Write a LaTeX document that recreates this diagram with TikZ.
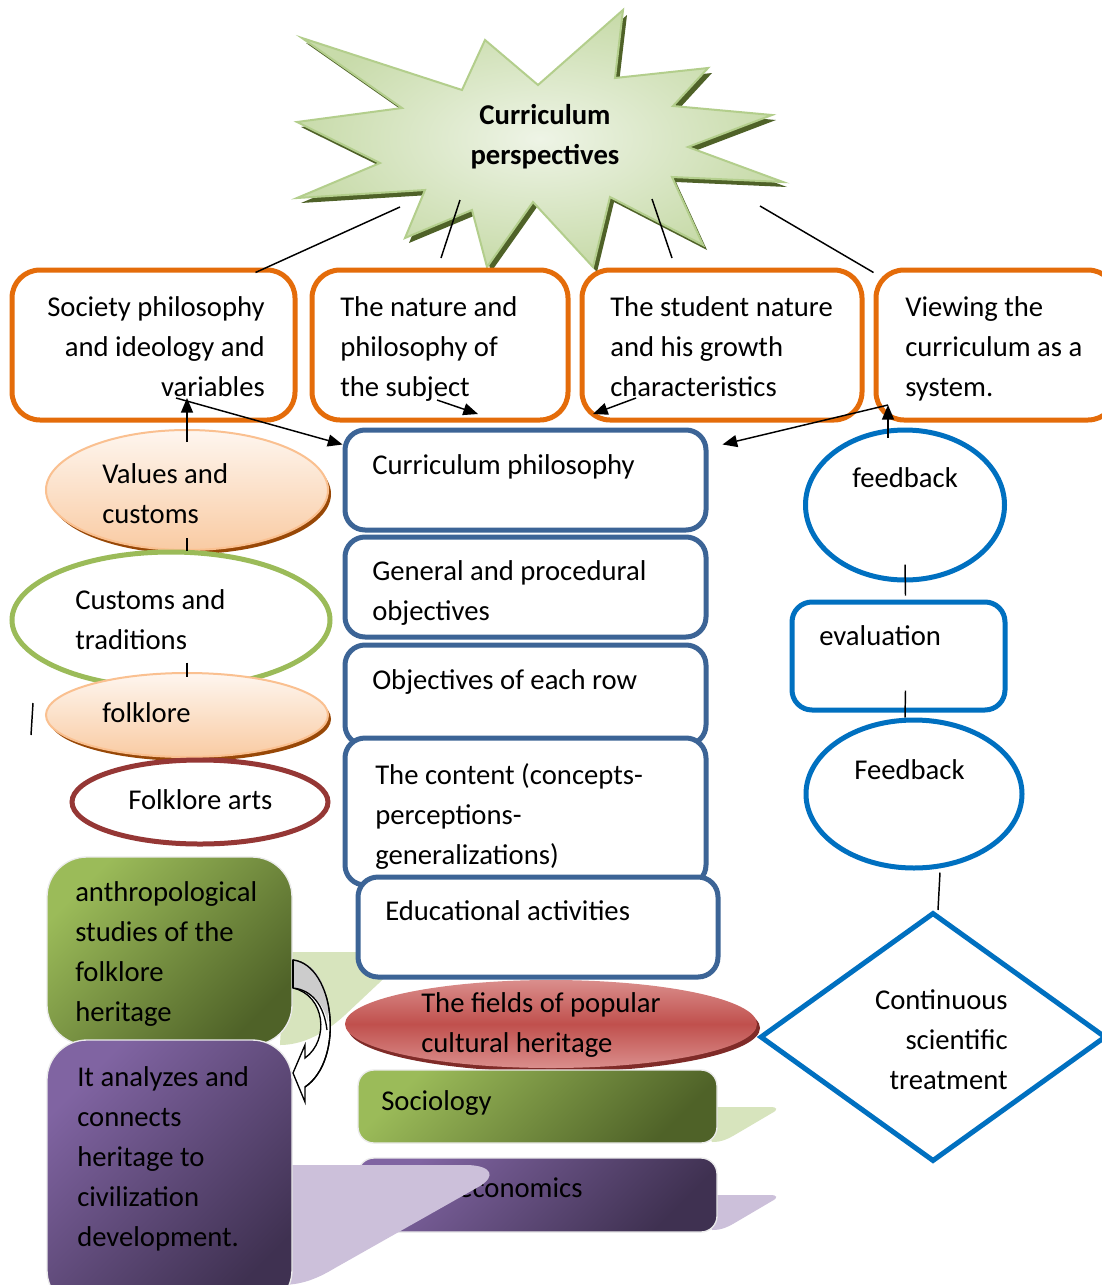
\documentclass[tikz,border=0pt]{standalone}
\usepackage{fontspec}
\setmainfont{Carlito}
\usetikzlibrary{arrows.meta,shapes.geometric,fit,calc}
\definecolor{orng}{HTML}{E46C0A}
\definecolor{bbox}{HTML}{3C6496}
\definecolor{rblue}{HTML}{0070C0}
\definecolor{grnb}{HTML}{9BBB59}
\definecolor{redb}{HTML}{953735}
\definecolor{peachT}{HTML}{FEF6EF}
\definecolor{peachB}{HTML}{F9CBA3}
\definecolor{peachL}{HTML}{FAC090}
\definecolor{brownS}{HTML}{984807}
\definecolor{redM}{HTML}{C0504D}
\definecolor{redL}{HTML}{DA8E8C}
\definecolor{redS}{HTML}{7F2B28}
\definecolor{gA}{HTML}{9BBB59}
\definecolor{gB}{HTML}{4F6228}
\definecolor{pA}{HTML}{8064A2}
\definecolor{pB}{HTML}{3F3151}
\definecolor{gSw}{HTML}{D7E4BD}
\definecolor{pSw}{HTML}{CCC0DA}
\definecolor{starIn}{HTML}{EEF4E6}
\definecolor{starOut}{HTML}{C8DBAA}
\definecolor{starLine}{HTML}{B3CE8C}
\definecolor{starSh}{HTML}{4F6228}
\newcommand\starpts{(302,38) -- (462,90) -- (485,40) -- (538,85) -- (623,10) -- (615,78) -- (708,68) -- (673,106) -- (772,115) -- (688,147) -- (783,182) -- (672,177) -- (703,245) -- (610,197) -- (593,267) -- (533,202) -- (487,267) -- (472,210) -- (405,238) -- (425,190) -- (297,198) -- (380,163) -- (297,122) -- (402,108) -- cycle}
\begin{document}
\begin{tikzpicture}[x=0.75pt,y=-0.75pt,
  every node/.style={font=\fontsize{21.5}{30}\selectfont},
  txt/.style={inner sep=0pt, align=left, execute at begin node=\strut},
  wh/.style 2 args={minimum width=#1*0.75pt, minimum height=#2*0.75pt},
  obox/.style={draw=orng, line width=3.75pt, rounded corners=21pt, fill=white, inner sep=0pt},
  bbx/.style={draw=bbox, line width=3.75pt, rounded corners=15pt, fill=white, inner sep=0pt},
  rbx/.style={draw=rblue, line width=3.75pt, rounded corners=15pt, fill=white, inner sep=0pt},
  ell/.style={ellipse, inner sep=0pt},
  gshade/.style={top color=gA, bottom color=gB, shading angle=45},
  pshade/.style={top color=pA, bottom color=pB, shading angle=45},
  arr/.style={line width=1.1pt, -{Triangle[length=11pt,width=9pt]}},
  ln/.style={line width=1.1pt},
]
\useasboundingbox (0,0) rectangle (1101,1285);
\fill[white] (0,0) rectangle (1101,1285);

% ---------- star ----------
\begin{scope}[shift={(4,5)}]
\fill[starSh] \starpts;
\end{scope}
\draw[draw=starLine, line width=1.5pt, inner color=starIn, outer color=starOut] \starpts;
\node[txt, align=center, anchor=north, font=\fontsize{21.5}{30}\selectfont\bfseries] (star) at (545,104) {Curriculum\\perspectives};

% ---------- orange boxes ----------
\node[obox, fit={(12,270) (295,420)}] (soc) {};
\node[obox, fit={(312,270) (568,420)}] (nat) {};
\node[obox, fit={(582,270) (862,420)}] (stu) {};
\node[obox, fit={(876,270) (1116,420)}] (sys) {};
\node[txt, align=right, anchor=north east] (socT) at (265,296) {Society philosophy\\and ideology and\\variables};
\node[txt, anchor=north west] (natT) at (340,296) {The nature and\\philosophy of\\the subject};
\node[txt, anchor=north west] (stuT) at (610,296) {The student nature\\and his growth\\characteristics};
\node[txt, anchor=north west] (sysT) at (905,296) {Viewing the\\curriculum as a\\system.};

% star connectors
\coordinate (st1) at (400,207);
\coordinate (st2) at (460,200);
\coordinate (st2e) at (441,258);
\coordinate (st3) at (652,199);
\coordinate (st3e) at (672,258);
\coordinate (st4) at (760,206);
\draw[ln] (st1) -- ($(soc.north east)+(-42,5)$);
\draw[ln] (st2) -- (st2e);
\draw[ln] (st3) -- (st3e);
\draw[ln] (st4) -- ($(sys.north west)+(0,5)$);

% ---------- swooshes (behind) ----------
\fill[gSw] (285,952) -- (412,952) -- (345,1015) .. controls (322,1036) and (300,1045) .. (280,1045) -- cycle;
\fill[gSw] (700,1107) -- (770,1107) .. controls (778,1107) and (778,1110) .. (772,1113) -- (738,1133) .. controls (728,1139) and (722,1142) .. (712,1142) -- cycle;
\fill[pSw] (700,1195) -- (770,1195) .. controls (778,1195) and (778,1198) .. (772,1201) -- (738,1221) .. controls (728,1227) and (722,1230) .. (712,1230) -- cycle;

% ---------- red ellipse ----------
\node[ell, wh={412}{88}, fill=redS] at (554,1028) {};
\node[ell, wh={412}{88}, top color=redL, bottom color=redL, middle color=redM] (fld) at (551,1024) {};
\node[txt, anchor=north west] (fldT) at (421,992) {The fields of popular\\cultural heritage};

% ---------- blue column ----------
\node[bbx, fit={(345,430) (706,530)}] (cur) {};
\node[bbx, fit={(345,537) (706,637)}] (gen) {};
\node[bbx, fit={(345,645) (706,745)}] (obj) {};
\node[bbx, fit={(345,738) (706,885)}] (cont) {};
\node[bbx, fit={(358,877) (718,977)}] (edu) {};
\node[txt, anchor=north west] (curT) at (372,446) {Curriculum philosophy};
\node[txt, anchor=north west] (genT) at (372,560) {General and procedural\\objectives};
\node[txt, anchor=north west] (objT) at (372,661) {Objectives of each row};
\node[txt, anchor=north west] (contT) at (375,763) {The content (concepts-\\perceptions-\\generalizations)};
\node[txt, anchor=north west] (eduT) at (385,892) {Educational activities};

% ---------- sociology / economics ----------
\node[gshade, draw=white!92!black, line width=1pt, rounded corners=12pt, inner sep=0pt, fit={(358,1070) (717,1143)}] (soci) {};
\node[txt, anchor=north west] (sociT) at (381,1082) {Sociology};
\node[pshade, draw=white!92!black, line width=1pt, rounded corners=12pt, inner sep=0pt, fit={(358,1158) (717,1232)}] (eco) {};
\node[txt, anchor=north west] (ecoT) at (458,1169) {economics};
\fill[pSw] (285,1165) -- (468,1165) .. controls (492,1166) and (496,1176) .. (480,1186) -- (335,1268) .. controls (315,1280) and (300,1285) .. (280,1285) -- cycle;

% ---------- left ellipses ----------
\node[ell, wh={282}{120}, fill=brownS] at (190,494) {};
\node[ell, wh={282}{120}, top color=peachT, bottom color=peachB, draw=peachL, line width=1.5pt] (val) at (187,490) {};
\node[txt, anchor=north west] (valT) at (102,463) {Values and\\customs};
\node[ell, wh={318}{136}, draw=grnb, line width=3.75pt, fill=white] (cust) at (171,620) {};
\node[txt, anchor=north west] (custT) at (75,589) {Customs and\\traditions};
\node[ell, wh={282}{84}, fill=brownS] at (190,719) {};
\node[ell, wh={282}{84}, top color=peachT, bottom color=peachB, draw=peachL, line width=1.5pt] (folk) at (187,715) {};
\node[txt, anchor=north west] (folkT) at (102,694) {folklore};
\node[ell, wh={256}{84}, draw=redb, line width=3.75pt, fill=white] (arts) at (200,802) {};
\node[txt, anchor=north west] (artsT) at (128,781) {Folklore arts};

% ---------- left bottom boxes ----------
\node[gshade, draw=white!92!black, line width=1pt, rounded corners=30pt, inner sep=0pt, fit={(47,857) (292,1045)}] (anth) {};
\node[txt, anchor=north west] (anthT) at (75,881) {anthropological\\studies of the\\folklore\\heritage};
\node[pshade, draw=white!92!black, line width=1pt, rounded corners=30pt, inner sep=0pt, fit={(47,1040) (292,1310)}] (ana) {};
\node[txt, anchor=north west] (anaT) at (77,1066) {It analyzes and\\connects\\heritage to\\civilization\\development.};

% curved arrow
\draw[fill=white, line width=1pt] (293,960) .. controls (335,965) and (345,1060) .. (305,1087) -- (305,1102) -- (293,1073) -- (305,1045) -- (305,1058) .. controls (330,1040) and (325,995) .. (293,988) -- cycle;
\fill[black!20] (293,960) .. controls (318,962) and (330,990) .. (328,1022) .. controls (322,1000) and (310,990) .. (293,988) -- cycle;
\draw[line width=1pt] (293,960) .. controls (335,965) and (345,1060) .. (305,1087);
\draw[line width=1pt] (293,988) .. controls (312,990) and (324,1005) .. (327,1030);
\draw[line width=1pt] (293,960) -- (293,988);

% ---------- right column ----------
\node[ell, wh={199}{150}, draw=rblue, line width=3.75pt, fill=white] (fb) at (905,505) {};
\node[txt, anchor=north west] (fbT) at (852,459) {feedback};
\node[rbx, fit={(792,602) (1005,710)}] (eva) {};
\node[txt, anchor=north west] (evaT) at (819,617) {evaluation};
\node[ell, wh={216}{148}, draw=rblue, line width=3.75pt, fill=white] (fb2) at (914,794) {};
\node[txt, anchor=north west] (fb2T) at (854,751) {Feedback};
\node[diamond, draw=rblue, line width=3.75pt, fill=white, inner sep=0pt, wh={346}{249}] (dia) at (933,1037) {};
\node[txt, align=right, anchor=north east] (diaT) at (1008,989) {Continuous\\scientific\\treatment};

% ---------- connectors ----------
\coordinate (v1) at (187,398);
\coordinate (v2) at (176,398);
\coordinate (n1) at (437,400);
\coordinate (n2) at (478,414);
\coordinate (s1) at (636,398);
\coordinate (s2) at (593,414);
\coordinate (y1) at (888,405);
\draw[arr] ($(val.north)+(0,13)$) -- (v1);
\draw[arr] (v2) -- ($(cur.north west)+(0,17)$);
\draw[arr] (n1) -- (n2);
\draw[arr] (s1) -- (s2);
\draw[arr] (y1) -- ($(cur.north east)+(14,17)$);
\draw[arr] ($(fb.north)+(-17,10)$) -- (y1);

\draw[ln] ($(val.south)+(0,-13)$) -- ($(cust.north)+(16,1)$);
\draw[ln] ($(cust.south)+(16,-28)$) -- ($(folk.north)+(0,5)$);
\coordinate (x1) at (33,703);
\coordinate (x2) at (31,735);
\draw[ln] (x1) -- (x2);
\draw[ln] ($(fb.south)+(0,-18)$) -- ($(eva.north)+(7,-4)$);
\draw[ln] ($(eva.south)+(7,-22)$) -- ($(fb2.north)+(-9,0)$);
\draw[ln] ($(fb2.south)+(26,2)$) -- ($(dia.north)+(5,0)$);
\end{tikzpicture}
\end{document}
